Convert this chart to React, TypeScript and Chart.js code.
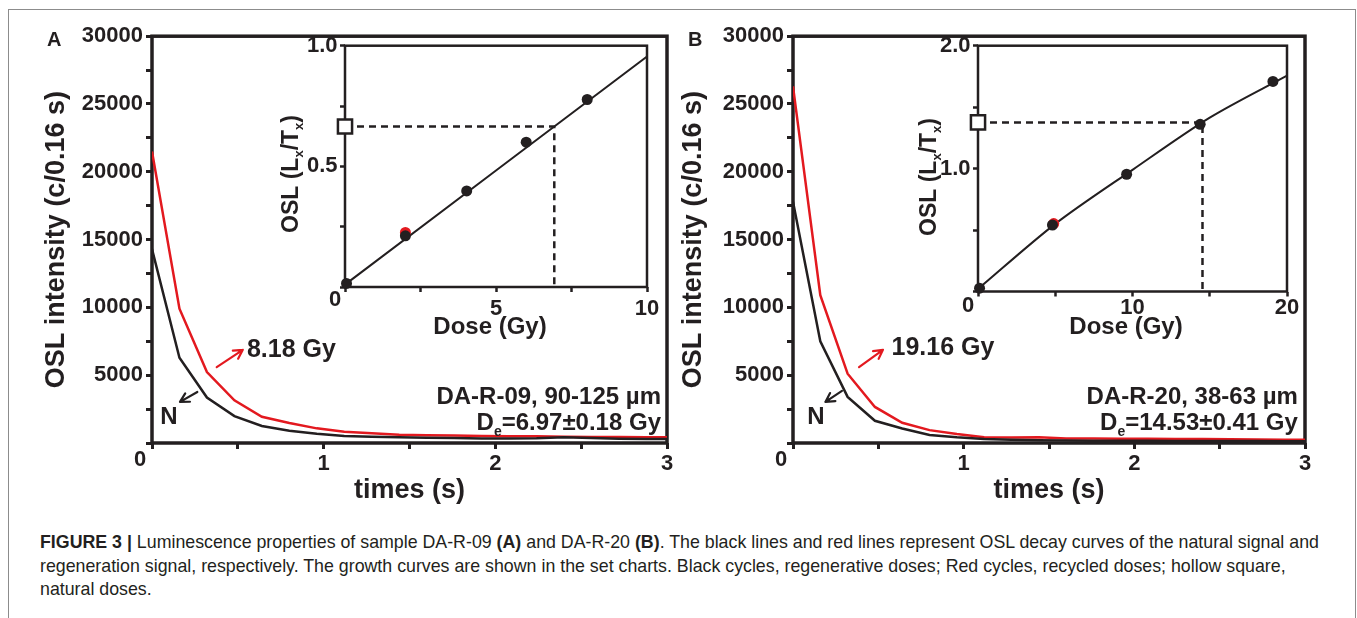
import React, { useEffect, useRef } from "react";
import { Chart, registerables } from "chart.js";

Chart.register(...registerables);

const FONT = "'Liberation Sans', Arial, Helvetica, sans-serif";
const INK = "#231f20";
const RED = "#e3191f";

// ---------- decay curves (counts per 0.16 s channel) ----------
const channelTimes = [0, 0.16, 0.32, 0.48, 0.64, 0.8, 0.96, 1.12, 1.28, 1.44, 1.6, 1.76, 1.92, 2.08, 2.24, 2.4, 2.56, 2.72, 2.88, 3.04];
const regenCurveA = [21500, 9900, 5230, 3150, 1930, 1480, 1080, 830, 720, 600, 570, 550, 520, 500, 490, 470, 450, 440, 430, 420];
const naturalCurveA = [14300, 6290, 3350, 1980, 1250, 900, 680, 510, 460, 420, 390, 360, 340, 330, 350, 420, 360, 320, 300, 290];
const regenCurveB = [26300, 10900, 5110, 2660, 1490, 950, 660, 420, 400, 420, 340, 330, 310, 320, 290, 290, 270, 260, 240, 230];
const naturalCurveB = [17800, 7500, 3400, 1640, 1070, 590, 420, 300, 240, 210, 190, 170, 160, 160, 150, 150, 140, 140, 130, 130];

const timeTicks = [0, 0.5, 1, 1.5, 2, 2.5, 3];
const timeTickLabels = ["", "", "1", "", "2", "", "3"];
const countTicks = [0, 2500, 5000, 7500, 10000, 12500, 15000, 17500, 20000, 22500, 25000, 27500, 30000];
const countTickLabels = ["", "", "5000", "", "10000", "", "15000", "", "20000", "", "25000", "", "30000"];

// ---------- growth curves (insets) ----------
const regenDoseA = [0.05, 2.0, 4.03, 6.0, 8.02];
const regenLxA = [0.015, 0.212, 0.398, 0.6, 0.777];
const recycleDoseA = [2.0];
const recycleLxA = [0.226];
const naturalLxA = [0.665];
const equivDoseA = [6.93];
const fitDoseA = [0, 10];
const fitLxA = [0.01, 0.955];
const doseTicksA = [0, 2.5, 5, 7.5, 10];
const doseTickLabelsA = ["", "", "5", "", "10"];
const ratioTicksA = [0, 0.25, 0.5, 0.75, 1.0];
const ratioTickLabelsA = ["", "", "0.5", "", "1.0"];

const regenDoseB = [0.1, 4.82, 9.62, 14.38, 19.09];
const regenLxB = [0.027, 0.541, 0.954, 1.36, 1.709];
const recycleDoseB = [4.9];
const recycleLxB = [0.553];
const naturalLxB = [1.376];
const equivDoseB = [14.53];
const fitDoseB = [0, 5, 10, 15, 20];
const fitLxB = [0.02, 0.55, 0.99, 1.415, 1.757];
const doseTicksB = [0, 5, 10, 15, 20];
const doseTickLabelsB = ["", "", "10", "", "20"];
const ratioTicksB = [0, 0.5, 1.0, 1.5, 2.0];
const ratioTickLabelsB = ["", "", "1.0", "", "2.0"];

type Box = { left: number; top: number; width: number; height: number };
type Area = { left: number; top: number; right: number; bottom: number };
type Run = { text: string; sub?: boolean };

function drawRuns(ctx: CanvasRenderingContext2D, runs: Run[], x: number, y: number, size: number, align: "left" | "right" | "center", color = INK) {
  const big = `bold ${size}px ${FONT}`;
  const small = `bold ${Math.round(size * 0.58)}px ${FONT}`;
  let w = 0;
  for (const r of runs) {
    ctx.font = r.sub ? small : big;
    w += ctx.measureText(r.text).width;
  }
  let cx = align === "left" ? x : align === "right" ? x - w : x - w / 2;
  const base = y + size * 0.36;
  ctx.fillStyle = color;
  ctx.textAlign = "left";
  ctx.textBaseline = "alphabetic";
  for (const r of runs) {
    ctx.font = r.sub ? small : big;
    ctx.fillText(r.text, cx, r.sub ? base + size * 0.22 : base);
    cx += ctx.measureText(r.text).width;
  }
}

function drawArrow(ctx: CanvasRenderingContext2D, x0: number, y0: number, x1: number, y1: number, color: string) {
  ctx.save();
  ctx.strokeStyle = color;
  ctx.lineWidth = 2.2;
  ctx.lineCap = "round";
  ctx.beginPath();
  ctx.moveTo(x0, y0);
  ctx.lineTo(x1, y1);
  const a = Math.atan2(y1 - y0, x1 - x0);
  for (const s of [-1, 1]) {
    ctx.moveTo(x1, y1);
    ctx.lineTo(x1 - 10 * Math.cos(a + s * 0.5), y1 - 10 * Math.sin(a + s * 0.5));
  }
  ctx.stroke();
  ctx.restore();
}

function layoutFor(box: Box, area: Area) {
  return {
    padding: { left: 0, top: area.top - box.top, right: box.left + box.width - area.right, bottom: 0 },
    yWidth: area.left - box.left,
    xHeight: box.top + box.height - area.bottom,
  };
}

const tickFont = { family: FONT, size: 22, weight: "bold" as const };

function framePlugin(lw: number, origin: [number, number]) {
  return {
    id: "frame",
    beforeDatasetsDraw(chart: any) {
      const { ctx, chartArea: a } = chart;
      ctx.save();
      ctx.strokeStyle = INK;
      ctx.lineWidth = lw;
      ctx.strokeRect(a.left, a.top, a.right - a.left, a.bottom - a.top);
      ctx.restore();
      ctx.save();
      drawRuns(ctx, [{ text: "0" }], a.left + origin[0], a.bottom + origin[1], 22, "center");
      ctx.restore();
    },
  };
}

type Panel = {
  regen: number[];
  natural: number[];
  doseText: string;
  doseAt: [number, number];
  regenArrow: [number, number, number, number];
  nAt: [number, number];
  naturalArrow: [number, number, number, number];
  sample: string;
  deValue: string;
  textRight: number;
  sampleY: number;
  deY: number;
};

const panelA: Panel = {
  regen: regenCurveA,
  natural: naturalCurveA,
  doseText: "8.18 Gy",
  doseAt: [0.553, 7040],
  regenArrow: [0.377, 5600, 0.529, 6870],
  nAt: [0.099, 2050],
  naturalArrow: [0.264, 3760, 0.163, 3030],
  sample: "DA-R-09, 90-125 µm",
  deValue: "=6.97±0.18 Gy",
  textRight: 2.965,
  sampleY: 3520,
  deY: 1560,
};

const panelB: Panel = {
  regen: regenCurveB,
  natural: naturalCurveB,
  doseText: "19.16 Gy",
  doseAt: [0.577, 7190],
  regenArrow: [0.387, 5600, 0.527, 6870],
  nAt: [0.135, 2050],
  naturalArrow: [0.287, 3840, 0.19, 3030],
  sample: "DA-R-20, 38-63 µm",
  deValue: "=14.53±0.41 Gy",
  textRight: 2.958,
  sampleY: 3520,
  deY: 1560,
};

function buildMain(canvas: HTMLCanvasElement, box: Box, area: Area, p: Panel, yTitlePad: number) {
  const L = layoutFor(box, area);
  const pts = (ys: number[]) => channelTimes.map((t, i) => ({ x: t, y: ys[i] }));
  const annot = {
    id: "annot",
    afterDatasetsDraw(chart: any) {
      const { ctx } = chart;
      const X = (v: number) => chart.scales.x.getPixelForValue(v);
      const Y = (v: number) => chart.scales.y.getPixelForValue(v);
      ctx.save();
      drawRuns(ctx, [{ text: p.doseText }], X(p.doseAt[0]), Y(p.doseAt[1]), 25, "left");
      drawArrow(ctx, X(p.regenArrow[0]), Y(p.regenArrow[1]), X(p.regenArrow[2]), Y(p.regenArrow[3]), RED);
      drawRuns(ctx, [{ text: "N" }], X(p.nAt[0]), Y(p.nAt[1]), 24, "center");
      drawArrow(ctx, X(p.naturalArrow[0]), Y(p.naturalArrow[1]), X(p.naturalArrow[2]), Y(p.naturalArrow[3]), INK);
      drawRuns(ctx, [{ text: p.sample }], X(p.textRight), Y(p.sampleY), 24, "right");
      drawRuns(ctx, [{ text: "D" }, { text: "e", sub: true }, { text: p.deValue }], X(p.textRight), Y(p.deY), 24, "right");
      ctx.restore();
    },
  };
  return new Chart(canvas, {
    type: "line",
    data: {
      datasets: [
        { data: pts(p.natural), borderColor: INK, borderWidth: 2.5, pointRadius: 0, tension: 0 },
        { data: pts(p.regen), borderColor: RED, borderWidth: 2.5, pointRadius: 0, tension: 0 },
      ],
    },
    options: {
      animation: false,
      responsive: false,
      devicePixelRatio: 1,
      layout: { padding: L.padding },
      plugins: { legend: { display: false }, tooltip: { enabled: false } },
      events: [],
      scales: {
        x: {
          type: "linear",
          min: 0,
          max: 3,
          afterBuildTicks: (s: any) => { s.ticks = timeTicks.map((v) => ({ value: v })); },
          afterFit: (s: any) => { s.height = L.xHeight; },
          ticks: { autoSkip: false, maxRotation: 0, padding: 2, color: INK, font: tickFont, callback: (_v: any, i: number) => timeTickLabels[i] },
          grid: { drawOnChartArea: false, drawTicks: true, tickLength: 6, tickWidth: 3, tickColor: INK },
          border: { display: false },
          title: { display: true, text: "times (s)", color: INK, font: { family: FONT, size: 27, weight: "bold" }, padding: { top: 0, bottom: 2.8 } },
        },
        y: {
          type: "linear",
          min: 0,
          max: 30000,
          afterBuildTicks: (s: any) => { s.ticks = countTicks.map((v) => ({ value: v })); },
          afterFit: (s: any) => { s.width = L.yWidth; },
          ticks: { autoSkip: false, padding: 3, color: INK, font: tickFont, callback: (_v: any, i: number) => countTickLabels[i] },
          grid: { drawOnChartArea: false, drawTicks: true, tickLength: 6, tickWidth: 3, tickColor: INK },
          border: { display: false },
          title: { display: true, text: "OSL intensity (c/0.16 s)", color: INK, font: { family: FONT, size: 27, weight: "bold" }, padding: { top: yTitlePad, bottom: 0 } },
        },
      },
    } as any,
    plugins: [framePlugin(3.5, [-12, 15]), annot],
  });
}

type Inset = {
  regenDose: number[];
  regenLx: number[];
  recycleDose: number[];
  recycleLx: number[];
  naturalLx: number[];
  equivDose: number[];
  fitDose: number[];
  fitLx: number[];
  doseTicks: number[];
  doseLabels: string[];
  ratioTicks: number[];
  ratioLabels: string[];
  xPad: number;
  yTitleAt: [number, number];
  xTitleAt: [number, number];
  origin: [number, number];
};

const insetA: Inset = {
  regenDose: regenDoseA, regenLx: regenLxA, recycleDose: recycleDoseA, recycleLx: recycleLxA,
  naturalLx: naturalLxA, equivDose: equivDoseA, fitDose: fitDoseA, fitLx: fitLxA,
  doseTicks: doseTicksA, doseLabels: doseTickLabelsA, ratioTicks: ratioTicksA, ratioLabels: ratioTickLabelsA,
  xPad: 3.8, yTitleAt: [290, 174], xTitleAt: [490, 325], origin: [-10, 11],
};
const insetB: Inset = {
  regenDose: regenDoseB, regenLx: regenLxB, recycleDose: recycleDoseB, recycleLx: recycleLxB,
  naturalLx: naturalLxB, equivDose: equivDoseB, fitDose: fitDoseB, fitLx: fitLxB,
  doseTicks: doseTicksB, doseLabels: doseTickLabelsB, ratioTicks: ratioTicksB, ratioLabels: ratioTickLabelsB,
  xPad: -2, yTitleAt: [928, 177], xTitleAt: [1126, 325], origin: [-10, 13],
};

function buildInset(canvas: HTMLCanvasElement, box: Box, area: Area, s: Inset) {
  const L = layoutFor(box, area);
  const xy = (xs: number[], ys: number[]) => xs.map((x, i) => ({ x, y: ys[i] }));
  const titles = {
    id: "titles",
    afterDraw(chart: any) {
      const { ctx } = chart;
      ctx.save();
      ctx.translate(s.yTitleAt[0] - box.left, s.yTitleAt[1] - box.top);
      ctx.rotate(-Math.PI / 2);
      drawRuns(ctx, [{ text: "OSL (L" }, { text: "x", sub: true }, { text: "/T" }, { text: "x", sub: true }, { text: ")" }], 0, 0, 23, "center");
      ctx.restore();
      ctx.save();
      drawRuns(ctx, [{ text: "Dose (Gy)" }], s.xTitleAt[0] - box.left, s.xTitleAt[1] - box.top, 24, "center");
      ctx.restore();
    },
  };
  const de = s.equivDose[0];
  const nat = s.naturalLx[0];
  return new Chart(canvas, {
    type: "scatter",
    data: {
      datasets: [
        { data: [{ x: 0, y: nat }], pointStyle: "rect", pointRadius: 10, backgroundColor: "#ffffff", borderColor: INK, borderWidth: 2.5, clip: false },
        { data: xy(s.regenDose, s.regenLx), pointRadius: 5.5, backgroundColor: INK, borderColor: INK, borderWidth: 0, clip: false },
        { data: xy(s.recycleDose, s.recycleLx), pointRadius: 5.5, backgroundColor: RED, borderColor: RED, borderWidth: 0, clip: false },
        { type: "line", data: xy(s.fitDose, s.fitLx), borderColor: INK, borderWidth: 2, pointRadius: 0, tension: 0.3, fill: false },
        { type: "line", data: [{ x: 0, y: nat }, { x: de, y: nat }, { x: de, y: 0 }], borderColor: INK, borderWidth: 2.5, borderDash: [7, 5], pointRadius: 0, tension: 0, fill: false },
      ],
    },
    options: {
      animation: false,
      responsive: false,
      devicePixelRatio: 1,
      layout: { padding: L.padding },
      plugins: { legend: { display: false }, tooltip: { enabled: false } },
      events: [],
      scales: {
        x: {
          type: "linear",
          min: s.doseTicks[0],
          max: s.doseTicks[s.doseTicks.length - 1],
          afterBuildTicks: (sc: any) => { sc.ticks = s.doseTicks.map((v) => ({ value: v })); },
          afterFit: (sc: any) => { sc.height = L.xHeight; },
          ticks: { autoSkip: false, maxRotation: 0, padding: s.xPad, color: INK, font: tickFont, callback: (_v: any, i: number) => s.doseLabels[i] },
          grid: { drawOnChartArea: false, drawTicks: true, tickLength: 5, tickWidth: 2.5, tickColor: INK },
          border: { display: false },
        },
        y: {
          type: "linear",
          min: s.ratioTicks[0],
          max: s.ratioTicks[s.ratioTicks.length - 1],
          afterBuildTicks: (sc: any) => { sc.ticks = s.ratioTicks.map((v) => ({ value: v })); },
          afterFit: (sc: any) => { sc.width = L.yWidth; },
          ticks: { autoSkip: false, padding: 2.5, color: INK, font: tickFont, callback: (_v: any, i: number) => s.ratioLabels[i] },
          grid: { drawOnChartArea: false, drawTicks: true, tickLength: 5, tickWidth: 2.5, tickColor: INK },
          border: { display: false },
        },
      },
    } as any,
    plugins: [framePlugin(2.5, s.origin), titles],
  });
}

function ChartCanvas({ box, build }: { box: Box; build: (c: HTMLCanvasElement) => Chart }) {
  const ref = useRef<HTMLCanvasElement | null>(null);
  useEffect(() => {
    if (!ref.current) return;
    const ch = build(ref.current);
    return () => ch.destroy();
  }, []);
  return (
    <canvas
      ref={ref}
      width={box.width}
      height={box.height}
      style={{ position: "absolute", left: box.left, top: box.top, width: box.width, height: box.height }}
    />
  );
}

const boxMainA: Box = { left: 20, top: 20, width: 660, height: 490 };
const areaMainA: Area = { left: 152, top: 34, right: 667, bottom: 443 };
const boxMainB: Box = { left: 661, top: 20, width: 680, height: 490 };
const areaMainB: Area = { left: 793, top: 34, right: 1305, bottom: 443 };
const boxInsetA: Box = { left: 262, top: 30, width: 410, height: 310 };
const areaInsetA: Area = { left: 345, top: 45, right: 647, bottom: 287 };
const boxInsetB: Box = { left: 898, top: 30, width: 412, height: 310 };
const areaInsetB: Area = { left: 978, top: 45, right: 1287, bottom: 291.5 };

export default function App() {
  const letter: React.CSSProperties = { position: "absolute", fontFamily: FONT, fontWeight: "bold", fontSize: 20, color: INK, lineHeight: "20px" };
  const cap: React.CSSProperties = { whiteSpace: "nowrap", height: 23.5, lineHeight: "23.5px" };
  return (
    <div style={{ position: "fixed", left: 0, top: 0, width: 1357, height: 618, overflow: "hidden", background: "#fff" }}>
      <div style={{ position: "absolute", left: 8, top: 9, width: 1348, height: 700, border: "1px solid #8c8c8c", boxSizing: "border-box" }} />
      <ChartCanvas box={boxMainA} build={(c) => buildMain(c, boxMainA, areaMainA, panelA, 20.8)} />
      <ChartCanvas box={boxMainB} build={(c) => buildMain(c, boxMainB, areaMainB, panelB, 16.8)} />
      <ChartCanvas box={boxInsetA} build={(c) => buildInset(c, boxInsetA, areaInsetA, insetA)} />
      <ChartCanvas box={boxInsetB} build={(c) => buildInset(c, boxInsetB, areaInsetB, insetB)} />
      <div style={{ ...letter, left: 47, top: 29 }}>A</div>
      <div style={{ ...letter, left: 688, top: 29 }}>B</div>
      <div style={{ position: "absolute", left: 40, top: 531, fontFamily: FONT, fontSize: 17.8, color: "#231f20" }}>
        <div style={cap}>
          <b>FIGURE 3 |</b> Luminescence properties of sample DA-R-09 <b>(A)</b> and DA-R-20 <b>(B)</b>. The black lines and red lines represent OSL decay curves of the natural signal and
        </div>
        <div style={cap}>
          regeneration signal, respectively. The growth curves are shown in the set charts. Black cycles, regenerative doses; Red cycles, recycled doses; hollow square,
        </div>
        <div style={cap}>natural doses.</div>
      </div>
    </div>
  );
}
